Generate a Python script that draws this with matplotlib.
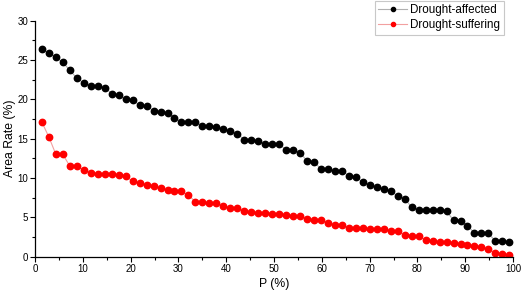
import matplotlib
matplotlib.use("Agg")
import matplotlib.pyplot as plt
from matplotlib.ticker import MultipleLocator

plt.rcParams["font.family"] = ["Liberation Sans", "DejaVu Sans"]

# exceedance probability P (%)
p = [1.46, 2.92, 4.38, 5.84, 7.30, 8.75, 10.21, 11.67, 13.13, 14.59,
     16.05, 17.51, 18.97, 20.43, 21.89, 23.34, 24.80, 26.26, 27.72, 29.18,
     30.64, 32.10, 33.56, 35.02, 36.48, 37.93, 39.39, 40.85, 42.31, 43.77,
     45.23, 46.69, 48.15, 49.61, 51.07, 52.52, 53.98, 55.44, 56.90, 58.36,
     59.82, 61.28, 62.74, 64.20, 65.66, 67.11, 68.57, 70.03, 71.49, 72.95,
     74.41, 75.87, 77.33, 78.79, 80.25, 81.70, 83.16, 84.62, 86.08, 87.54,
     89.00, 90.46, 91.92, 93.38, 94.84, 96.29, 97.75, 99.21]

affected = [26.4, 25.9, 25.35, 24.7, 23.7, 22.7, 22.1, 21.75, 21.75, 21.5,
            20.75, 20.5, 20.0, 19.95, 19.25, 19.2, 18.55, 18.35, 18.3, 17.65,
            17.15, 17.15, 17.15, 16.65, 16.6, 16.55, 16.25, 15.95, 15.6, 14.9,
            14.8, 14.7, 14.3, 14.3, 14.3, 13.6, 13.6, 13.2, 12.2, 12.0,
            11.2, 11.15, 10.95, 10.9, 10.3, 10.1, 9.5, 9.1, 8.85, 8.55,
            8.3, 7.75, 7.35, 6.3, 5.95, 5.9, 5.9, 5.88, 5.75, 4.65,
            4.6, 3.95, 3.0, 3.0, 2.95, 2.0, 1.98, 1.87]

suffering = [17.1, 15.2, 13.0, 13.0, 11.5, 11.5, 11.0, 10.7, 10.55, 10.55,
             10.55, 10.4, 10.2, 9.6, 9.4, 9.15, 8.95, 8.75, 8.45, 8.35,
             8.3, 7.8, 7.0, 6.95, 6.85, 6.8, 6.4, 6.25, 6.15, 5.8,
             5.65, 5.6, 5.5, 5.47, 5.45, 5.26, 5.22, 5.2, 4.83, 4.68,
             4.65, 4.32, 4.07, 4.07, 3.67, 3.65, 3.6, 3.56, 3.53, 3.48,
             3.32, 3.25, 2.72, 2.59, 2.59, 2.12, 2.0, 1.87, 1.83, 1.7,
             1.58, 1.49, 1.32, 1.27, 0.98, 0.47, 0.3, 0.18]

fig = plt.figure(figsize=(5.26, 2.97), dpi=100)
ax = fig.add_axes([0.0665, 0.1357, 0.909, 0.7943])

ax.plot(p, affected, color="#b0b0b0", lw=0.8, marker="o", ms=4.6,
        mfc="black", mec="black", label="Drought-affected")
ax.plot(p, suffering, color="#f2a0a0", lw=0.8, marker="o", ms=4.6,
        mfc="#ff0000", mec="#ff0000", label="Drought-suffering")

ax.set_xlim(0, 100)
ax.set_ylim(0, 30)
ax.xaxis.set_major_locator(MultipleLocator(10))
ax.xaxis.set_minor_locator(MultipleLocator(5))
ax.yaxis.set_major_locator(MultipleLocator(5))
ax.yaxis.set_minor_locator(MultipleLocator(2.5))
ax.tick_params(which="major", length=3.5, width=0.8, labelsize=7, pad=1.5)
ax.tick_params(which="minor", length=2, width=0.8)

for s in ["top", "right"]:
    ax.spines[s].set_visible(False)
for s in ["left", "bottom"]:
    ax.spines[s].set_linewidth(0.9)

ax.set_xlabel("P (%)", fontsize=8.8, labelpad=3)
ax.set_ylabel("Area Rate (%)", fontsize=8.8, labelpad=1)

leg = ax.legend(loc="upper right", bbox_to_anchor=(0.958, 0.997),
                bbox_transform=fig.transFigure, fontsize=8.4, fancybox=False,
                edgecolor="#c8c8c8", framealpha=1, handlelength=2.5,
                handletextpad=0.25, borderpad=0.3, labelspacing=0.25,
                borderaxespad=0, markerscale=0.65)
leg.get_frame().set_linewidth(0.8)

fig.savefig("out.png", dpi=100)
